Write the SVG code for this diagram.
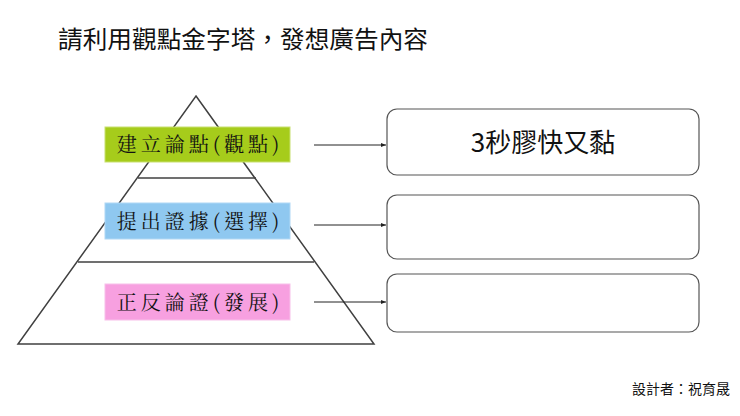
<svg xmlns="http://www.w3.org/2000/svg" width="740" height="416" viewBox="0 0 740 416">
<style>
.l{stroke:#404040;stroke-width:1.5;fill:none}
.t{font-family:"Noto Sans CJK TC","Noto Sans CJK SC",sans-serif;fill:#111}
.lb{font-family:"Noto Serif CJK TC","Noto Sans CJK TC",serif;font-size:20px;fill:#111;letter-spacing:4px}
.rb{fill:#fff;stroke:#555;stroke-width:1.2}
.c{stroke:#222;stroke-width:1}
</style>
<defs><marker id="a" markerWidth="6" markerHeight="6" refX="5" refY="3" orient="auto"><path d="M0,1L5,3L0,5z" fill="#222"/></marker></defs>
<rect width="740" height="416" fill="#fff"/>
<text class="t" x="58" y="48" font-size="24" textLength="370" lengthAdjust="spacingAndGlyphs">請利用觀點金字塔，發想廣告內容</text>
<g id="pyramid">
<polygon class="l" points="196,96 374,344 18,344"/>
<line class="l" x1="138" y1="178" x2="256" y2="178"/>
<line class="l" x1="78" y1="262" x2="314" y2="262"/>
</g>
<g id="n1"><rect x="105" y="127" width="185" height="35" fill="#a6cc1b" stroke="#c8e070"/><text class="lb" x="200" y="152" text-anchor="middle">建立論點(觀點)</text></g>
<g id="n2"><rect x="105" y="203" width="185" height="36" fill="#8fc8f0" stroke="#b0d8f5"/><text class="lb" x="200" y="229" text-anchor="middle">提出證據(選擇)</text></g>
<g id="n3"><rect x="105" y="284" width="185" height="36" fill="#f7a0e0" stroke="#f8c0ea"/><text class="lb" x="200" y="310" text-anchor="middle">正反論證(發展)</text></g>
<g id="r1"><rect class="rb" x="387" y="109" width="312" height="66" rx="10"/><text class="t" x="543" y="152" font-size="26" text-anchor="middle">3秒膠快又黏</text></g>
<g id="r2"><rect class="rb" x="387" y="195" width="312" height="64" rx="10"/></g>
<g id="r3"><rect class="rb" x="387" y="274" width="312" height="58" rx="10"/></g>
<g id="connectors">
<line class="c" x1="314" y1="145" x2="386" y2="145" marker-end="url(#a)"/>
<line class="c" x1="314" y1="225" x2="386" y2="225" marker-end="url(#a)"/>
<line class="c" x1="314" y1="302" x2="386" y2="302" marker-end="url(#a)"/>
</g>
<text class="t" x="730" y="394" font-size="14" text-anchor="end">設計者：祝育晟</text>
</svg>
